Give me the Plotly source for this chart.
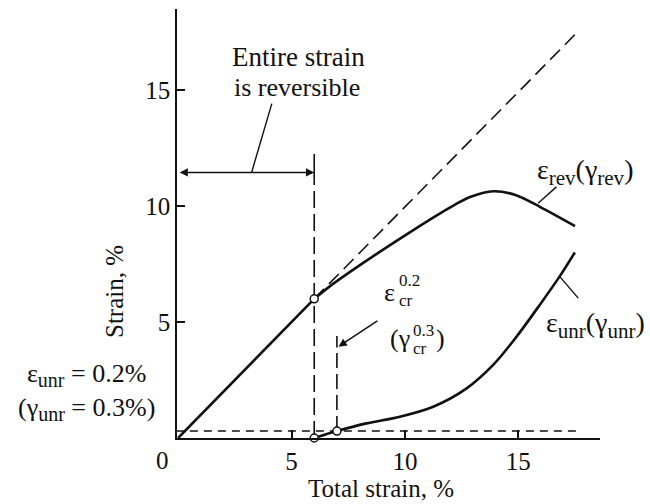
import plotly.graph_objects as go

# ---------------- data ----------------
lin_x = [0, 6]
lin_y = [0, 6]
rev_x = [6, 6.7, 8.16, 9.63, 11.1, 12.0, 12.9, 13.9, 14.9, 15.95, 17.5]
rev_y = [6, 6.55, 7.55, 8.5, 9.42, 9.95, 10.4, 10.64, 10.47, 9.97, 9.14]
unr_x = [6, 7, 8.3, 9.78, 11.25, 12.72, 13.89, 14.92, 15.95, 16.83, 17.49]
unr_y = [0, 0.3, 0.63, 0.92, 1.35, 2.14, 3.15, 4.37, 5.75, 6.98, 8.0]
diag_x = [6, 17.7]
diag_y = [6, 17.6]
hdash_x = [-0.1, 17.8]
hdash_y = [0.3, 0.3]
v1_x = [6, 6]
v1_y = [0, 11.1]
v1top_y = [11.1, 12.25]
v2_x = [7, 7]
v2_y = [0.3, 3.9]
v2top_y = [3.9, 4.4]
mark_x = [-0.1, 6, 6, 7]
mark_y = [0.3, 6, 0, 0.3]
lead1_x = [4.13, 3.24]
lead1_y = [14.42, 11.45]
lead2_x = [15.87, 16.68]
lead2_y = [10.12, 10.83]
lead3_x = [16.83, 17.64]
lead3_y = [6.96, 6.03]
tick_vals = [5, 10, 15]
tick_text = ["5", "10", "15"]

FONT = "Liberation Serif"
FS = 25
AFS = 26
BLACK = "#111111"

# plot area in pixels
L, R, T, B = 177, 600, 9, 438
W, H = 650, 504


def px(xp):
    return (xp - L) / (R - L)


def py(yp):
    return (B - yp) / (B - T)


fig = go.Figure()


def line(x, y, width=1.5, dash=None, shape="linear"):
    fig.add_trace(go.Scatter(
        x=x, y=y, mode="lines", cliponaxis=False, hoverinfo="skip",
        line=dict(color=BLACK, width=width, dash=dash, shape=shape,
                  smoothing=0.9 if shape == "spline" else None),
        showlegend=False))


line(lin_x, lin_y, width=2.6)
line(rev_x, rev_y, width=2.6, shape="spline")
line(unr_x, unr_y, width=2.6, shape="spline")
line(diag_x, diag_y, width=1.6, dash="14px,7px")
line(hdash_x, hdash_y, width=1.5, dash="8px,6px")
line(v1_x, v1_y, width=1.6, dash="17px,6px")
line(v1_x, v1top_y, width=1.6)
line(v2_x, v2_y, width=1.6, dash="15px,6px")
line(v2_x, v2top_y, width=1.6)
line(lead1_x, lead1_y, width=1.4)
line(lead2_x, lead2_y, width=1.4)
line(lead3_x, lead3_y, width=1.4)

fig.add_trace(go.Scatter(
    x=mark_x, y=mark_y, mode="markers", cliponaxis=False, hoverinfo="skip",
    marker=dict(symbol="circle", size=8, color="white",
                line=dict(color=BLACK, width=1.5)),
    showlegend=False))

anns = []

# double-headed arrow
anns.append(dict(x=6, y=11.45, ax=0, ay=11.45, xref="x", yref="y",
                 axref="x", ayref="y", showarrow=True, arrowhead=2,
                 arrowside="end+start", arrowsize=1.1, arrowwidth=1.5,
                 arrowcolor=BLACK, text="", standoff=0, startstandoff=0))
# arrow to second vertical line
anns.append(dict(x=7.07, y=3.94, ax=8.85, ay=5.09, xref="x", yref="y",
                 axref="x", ayref="y", showarrow=True, arrowhead=2,
                 arrowsize=1.1, arrowwidth=1.5, arrowcolor=BLACK, text="",
                 standoff=0))
# arrow to left circle
anns.append(dict(x=-0.1, y=0.3, ax=-30, ay=-11, xref="x", yref="y",
                 showarrow=True, arrowhead=2, arrowsize=1.1, arrowwidth=1.5,
                 arrowcolor=BLACK, text="", standoff=4))


def txt(s, xp, yp, size=AFS, xanchor="center", yanchor="middle", angle=0):
    anns.append(dict(x=px(xp), y=py(yp), xref="paper", yref="paper",
                     text=s, showarrow=False, xanchor=xanchor,
                     yanchor=yanchor, textangle=angle,
                     font=dict(family=FONT, size=size, color=BLACK)))


def sub(s, size=20):
    return "<sub><span style='font-size:%dpx'>%s</span></sub>" % (size, s)


txt("Entire strain", 298, 57, size=27)
txt("is reversible", 297, 88)
txt("ε" + sub("unr") + " = 0.2%<br>(γ" + sub("unr") + " = 0.3%)", 86, 392)
txt("ε" + sub("rev", 21) + "(γ" + sub("rev", 21) + ")", 585, 172, size=28)
txt("ε" + sub("unr", 21) + "(γ" + sub("unr", 21) + ")", 595, 325, size=28)
# stacked super/subscripts
txt("ε", 397, 292, xanchor="right")
txt("0.2", 397, 280, size=17, xanchor="left")
txt("cr", 397, 300, size=17, xanchor="left")
txt("(γ", 412, 339, xanchor="right")
txt("0.3", 411, 330, size=17, xanchor="left")
txt("cr", 411, 348, size=17, xanchor="left")
txt(")", 434, 339, xanchor="left")
# origin and axis titles
txt("0", 162, 460, size=FS)
txt("Total strain, %", 381, 488, size=FS)
txt("Strain, %", 114, 292, size=FS, angle=-90)

axis_common = dict(showline=True, linecolor=BLACK, linewidth=1.5,
                   ticks="inside", ticklen=8, tickwidth=1.5, tickcolor=BLACK,
                   showgrid=False, zeroline=False,
                   tickfont=dict(family=FONT, size=FS, color=BLACK),
                   tickvals=tick_vals, ticktext=tick_text)

fig.update_layout(
    width=W, height=H,
    margin=dict(l=L, r=W - R, t=T, b=H - B),
    paper_bgcolor="white", plot_bgcolor="white",
    xaxis=dict(range=[-0.05, 18.6], **axis_common),
    yaxis=dict(range=[0, 18.5], **axis_common),
    annotations=anns,
)

fig.write_html("out.html")
